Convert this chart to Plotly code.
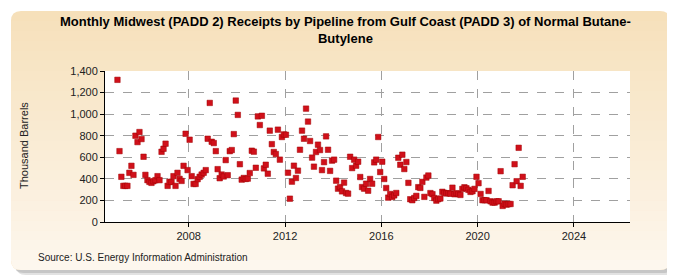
import pandas as pd
import plotly.graph_objects as go

# monthly receipts, thousand barrels, Jan 2005 - Nov 2021
y2005 = [1318, 657, 419, 335, 335, 335, 456, 521, 437, 800, 741, 834]
y2006 = [769, 605, 437, 388, 372, 363, 378, 388, 425, 388, 651, 679]
y2007 = [726, 335, 372, 372, 425, 335, 456, 400, 381, 521, 818, 481]
y2008 = [763, 425, 353, 353, 397, 419, 440, 456, 481, 772, 1104, 744]
y2009 = [732, 657, 490, 406, 440, 422, 574, 434, 657, 667, 815, 1126]
y2010 = [993, 536, 393, 408, 399, 402, 454, 661, 652, 503, 979, 899]
y2011 = [985, 497, 531, 448, 847, 722, 649, 630, 856, 578, 788, 812]
y2012 = [809, 457, 216, 374, 522, 408, 476, 670, 847, 772, 1051, 931]
y2013 = [751, 597, 513, 649, 717, 667, 481, 555, 794, 670, 474, 569]
y2014 = [578, 383, 309, 324, 284, 365, 269, 263, 605, 500, 578, 522]
y2015 = [559, 417, 324, 309, 355, 290, 399, 355, 553, 578, 788, 463]
y2016 = [559, 399, 315, 226, 260, 232, 247, 269, 596, 531, 624, 491]
y2017 = [556, 363, 211, 202, 223, 242, 323, 316, 372, 233, 412, 431]
y2018 = [268, 258, 222, 198, 212, 218, 280, 270, 265, 267, 262, 318]
y2019 = [257, 267, 260, 251, 307, 322, 313, 298, 279, 285, 307, 419]
y2020 = [360, 260, 202, 202, 202, 288, 192, 180, 180, 192, 192, 471]
y2021 = [149, 170, 161, 167, 167, 341, 536, 378, 688, 335, 419]

values = (y2005 + y2006 + y2007 + y2008 + y2009 + y2010 + y2011 + y2012 + y2013
          + y2014 + y2015 + y2016 + y2017 + y2018 + y2019 + y2020 + y2021)
months = pd.date_range("2005-01-01", periods=len(values), freq="MS") + pd.Timedelta(days=14)

title = "Monthly Midwest (PADD 2) Receipts by Pipeline from Gulf Coast (PADD 3) of Normal Butane-<br>Butylene"
source = "Source: U.S. Energy Information Administration"

W, H = 675, 275
L, R, T, B = 97, 622, 63, 214


def px(x):
    return (x - L) / (R - L)


def py(y):
    return (B - y) / (B - T)


def box_path(x0, y0, x1, y1, r, top=True, bottom=True):
    rt = r if top else 0
    rb = r if bottom else 0
    p = "M %f,%f " % (px(x0 + rt), py(y0))
    p += "L %f,%f " % (px(x1 - rt), py(y0))
    p += "Q %f,%f %f,%f " % (px(x1), py(y0), px(x1), py(y0 + rt))
    p += "L %f,%f " % (px(x1), py(y1 - rb))
    p += "Q %f,%f %f,%f " % (px(x1), py(y1), px(x1 - rb), py(y1))
    p += "L %f,%f " % (px(x0 + rb), py(y1))
    p += "Q %f,%f %f,%f " % (px(x0), py(y1), px(x0), py(y1 - rb))
    p += "L %f,%f " % (px(x0), py(y0 + rt))
    p += "Q %f,%f %f,%f Z" % (px(x0), py(y0), px(x0 + rt), py(y0))
    return p


def mix(c1, c2, t):
    c = [round(a + (b - a) * t) for a, b in zip(c1, c2)]
    return "rgb(%d,%d,%d)" % tuple(c)


top_col = (246, 224, 186)
bot_col = (253, 247, 238)
bx0, by0, bx1, by1, rad = 3, 3, 662, 262, 10

shapes = []
shapes.append(dict(type="path", path=box_path(bx0 + 5, by0 + 5, bx1 + 5, by1 + 5, rad),
                   xref="paper", yref="paper", fillcolor="#E2E2E2", line_width=0, layer="below"))
shapes.append(dict(type="path", path=box_path(bx0 + 3, by0 + 3, bx1 + 3, by1 + 3, rad),
                   xref="paper", yref="paper", fillcolor="#C6C6C6", line_width=0, layer="below"))
shapes.append(dict(type="path", path=box_path(bx0, by0, bx1, by1, rad),
                   xref="paper", yref="paper", fillcolor=mix(top_col, bot_col, 0), line_width=0, layer="below"))
nb = 24
step = (by1 - by0 - 2 * rad) / nb
for i in range(nb):
    ya = by0 + rad + i * step
    t = (ya + step / 2 - by0) / (by1 - by0)
    shapes.append(dict(type="rect", xref="paper", yref="paper",
                       x0=px(bx0), x1=px(bx1), y0=py(ya), y1=py(ya + step + 0.6),
                       fillcolor=mix(top_col, bot_col, t), line_width=0, layer="below"))
shapes.append(dict(type="path", path=box_path(bx0, by1 - rad, bx1, by1, rad, top=False),
                   xref="paper", yref="paper", fillcolor=mix(top_col, bot_col, 1), line_width=0, layer="below"))
shapes.append(dict(type="rect", xref="paper", yref="paper", x0=0, x1=1, y0=0, y1=1,
                   fillcolor="white", line_width=0, layer="below"))

fig = go.Figure()
fig.add_trace(go.Scatter(x=months, y=values, mode="markers",
                         marker=dict(symbol="square", size=5.5, color="#D0101A",
                                     line=dict(width=0.5, color="#A00000")),
                         showlegend=False))

fig.update_layout(
    width=W, height=H,
    margin=dict(l=L, r=W - R, t=T, b=H - B),
    paper_bgcolor="white",
    plot_bgcolor="white",
    shapes=shapes,
    font=dict(family="Liberation Sans, Arial, sans-serif", size=11, color="#222222"),
    xaxis=dict(
        type="date",
        range=["2004-07-10", "2026-05-01"],
        tick0="2008-01-01", dtick="M48", tickformat="%Y",
        showgrid=True, gridcolor="#A0A0A0", griddash="dash", gridwidth=1,
        showline=True, linecolor="black", linewidth=1,
        ticks="outside", ticklen=4, tickcolor="black",
        zeroline=False,
    ),
    yaxis=dict(
        range=[0, 1400], dtick=200, tickformat=",",
        showgrid=True, gridcolor="#A0A0A0", griddash="dash", gridwidth=1,
        showline=True, linecolor="black", linewidth=1,
        ticks="outside", ticklen=4, tickcolor="black",
        zeroline=False,
    ),
    annotations=[
        dict(text="<b>" + title + "</b>", xref="paper", yref="paper",
             x=px(W / 2), y=py(22), xanchor="center", yanchor="middle", showarrow=False,
             font=dict(family="Liberation Sans Narrow, Arial Narrow, sans-serif", size=13, color="black")),
        dict(text="Thousand Barrels", xref="paper", yref="paper", textangle=-90,
             x=px(16), y=py(138), xanchor="center", yanchor="middle", showarrow=False,
             font=dict(size=11, color="#222222")),
        dict(text=source, xref="paper", yref="paper",
             x=px(28), y=py(250), xanchor="left", yanchor="middle", showarrow=False,
             font=dict(size=10, color="#222222")),
    ],
)

fig.write_html("out.html")
